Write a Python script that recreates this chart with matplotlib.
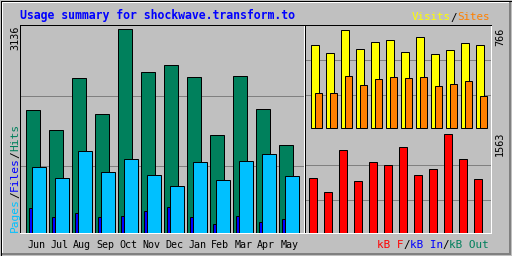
import numpy as np
import matplotlib
matplotlib.use('Agg')
import matplotlib.pyplot as plt
from matplotlib.lines import Line2D

months = ['Jun', 'Jul', 'Aug', 'Sep', 'Oct', 'Nov', 'Dec', 'Jan', 'Feb', 'Mar', 'Apr', 'May']
hits = [1896, 1586, 2390, 1833, 3136, 2482, 2590, 2405, 1509, 2420, 1911, 1355]
pages = [1015, 845, 1262, 938, 1138, 891, 721, 1092, 814, 1108, 1216, 876]
files = [381, 243, 304, 243, 258, 335, 397, 243, 134, 258, 165, 212]
visits = [649, 586, 766, 617, 672, 688, 594, 711, 578, 610, 664, 649]
sites = [274, 274, 406, 336, 383, 399, 391, 399, 328, 344, 367, 250]
kbytes = [877, 654, 1308, 829, 1132, 1084, 1356, 925, 1021, 1563, 1164, 861]

title = 'Usage summary for shockwave.transform.to'

BG = '#C0C0C0'
GREEN = '#00805C'
LBLUE = '#00C0FF'
BLUE = '#0000FF'
YELLOW = '#FFFF00'
ORANGE = '#FF8000'
RED = '#FF0000'
GRID = '#808080'
W, H, DPI = 512, 256, 100
MONO = 'DejaVu Sans Mono'

fig = plt.figure(figsize=(W / DPI, H / DPI), dpi=DPI, facecolor=BG)


def fx(px):
    return px / W


def fy(py):
    return 1 - py / H


def box(x0, y0, x1, y1):
    return [fx(x0), fy(y1), fx(x1) - fx(x0), fy(y0) - fy(y1)]


def line(xs, ys, color, lw=1.0):
    fig.add_artist(Line2D([fx(x) for x in xs], [fy(y) for y in ys],
                          color=color, lw=lw * 72 / DPI, transform=fig.transFigure,
                          solid_capstyle='butt'))


# outer frame with bevel
line([0.5, 511.5, 511.5, 0.5, 0.5], [0.5, 0.5, 255.5, 255.5, 0.5], 'black')
line([1.5, 1.5, 510], [254, 1.5, 1.5], 'white')
line([509.5, 509.5], [2, 255], '#808080', 2)
line([2, 510], [253.5, 253.5], '#808080', 2)


def panel(rect, xlim, ylim, top=True):
    ax = fig.add_axes(rect)
    ax.set_facecolor(BG)
    ax.set_xlim(*xlim)
    ax.set_ylim(*ylim)
    ax.set_xticks([])
    ax.set_yticks([])
    for s in ('left', 'top'):
        ax.spines[s].set_color('black')
    for s in ('right', 'bottom'):
        ax.spines[s].set_color('white')
    for s in ax.spines.values():
        s.set_linewidth(72 / DPI)
    if not top:
        ax.spines['top'].set_visible(False)
    for f in (0.32, 0.66):
        ax.axhline(ylim[1] * f, color=GRID, lw=72 / DPI, zorder=1)
    return ax


x = np.arange(len(months))
bar_kw = dict(align='edge', edgecolor='black', linewidth=72 / DPI, zorder=3)

# main panel: hits / files / pages
ax = panel(box(20, 25, 304, 233), (-6.3 / 23, -6.3 / 23 + 284 / 23), (0, 3202))
ax.bar(x, hits, 13.3 / 23, color=GREEN, **bar_kw)
ax.bar(x + 2.7 / 23, files, 3.3 / 23, color=BLUE, **bar_kw)
ax.bar(x + 5.7 / 23, pages, 13.7 / 23, color=LBLUE, **bar_kw)

# visits / sites
ax2 = panel(box(305, 25, 491, 129.5), (-5.7 / 15, -5.7 / 15 + 186 / 15), (-10, 805))
ax2.bar(x, visits, 8 / 15, color=YELLOW, **bar_kw)
ax2.bar(x + 4 / 15, sites, 7 / 15, color=ORANGE, **bar_kw)

# kbytes
ax3 = panel(box(305, 130, 491, 233), (-4.3 / 15, -4.3 / 15 + 186 / 15), (0, 1631), top=False)
ax3.bar(x, kbytes, 7.3 / 15, color=RED, **bar_kw)


def seg_text(px, py, parts, fs, ha='left', rot=False, weight='normal'):
    adv = 0.602 * fs * DPI / 72
    total = sum(len(t) for t, _ in parts) * adv
    pos = px if ha == 'left' else px - total
    if rot:
        pos = py
    for t, c in parts:
        if rot:
            fig.text(fx(px), fy(pos), t, color=c, fontsize=fs, family=MONO,
                     rotation=90, rotation_mode='anchor', ha='left', va='center',
                     weight=weight)
            pos -= len(t) * adv
        else:
            fig.text(fx(pos), fy(py), t, color=c, fontsize=fs, family=MONO,
                     ha='left', va='center', weight=weight)
            pos += len(t) * adv


seg_text(20, 15, [(title, BLUE)], 8.3, weight='bold')
seg_text(490, 17.5, [('Visits', YELLOW), ('/', 'black'), ('Sites', ORANGE)], 7.8, ha='right')
seg_text(489, 245, [('kB F', RED), ('/', 'black'), ('kB In', BLUE), ('/', 'black'),
                    ('kB Out', GREEN)], 7.9, ha='right')
seg_text(15, 232, [('Pages', LBLUE), ('/', 'black'), ('Files', BLUE), ('/', 'black'),
                   ('Hits', GREEN)], 8.1, rot=True)

# axis maxima, written upwards and ending at the panel top
for px, py, v in [(15, 25, max(hits)), (500, 28, max(visits)), (500, 131.5, max(kbytes))]:
    fig.text(fx(px), fy(py), str(v), fontsize=7.3, family=MONO, rotation=90,
             rotation_mode='anchor', ha='right', va='center')

for i, m in enumerate(months):
    fig.text(fx(20 + 6.3 + 23 * i + 10), fy(245), m, fontsize=7.2, family=MONO,
             ha='center', va='center')

fig.savefig('out.png', dpi=DPI, facecolor=BG)
